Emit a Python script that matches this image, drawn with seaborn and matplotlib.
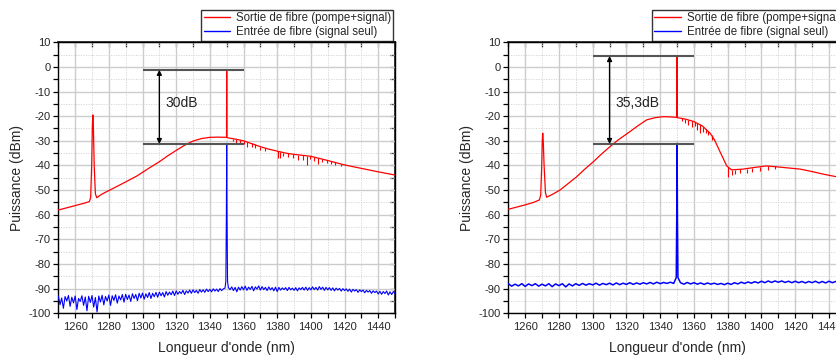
import numpy as np
import pandas as pd
import matplotlib
matplotlib.use("Agg")
import matplotlib.pyplot as plt
from matplotlib.ticker import MultipleLocator
from matplotlib.lines import Line2D
import seaborn as sns

# ---- data ----
# blue baseline (fibre input); the value at 1350 nm is the signal peak
blue_grid_left = np.arange(1250, 1451, 1)
blue_left = [
    -93.0, -96.5, -93.8, -98.0, -93.2, -95.0, -92.8, -97.2, -93.5, -95.8,
    -93.0, -98.5, -94.0, -95.2, -92.9, -96.8, -93.4, -99.0, -93.1, -95.6,
    -92.8, -97.5, -93.6, -99.5, -93.0, -95.4, -92.7, -96.6, -93.2, -95.0,
    -92.6, -96.8, -92.9, -94.8, -92.5, -95.9, -93.0, -94.6, -92.4, -95.5,
    -92.3, -94.4, -92.6, -95.2, -92.1, -94.0, -92.4, -94.9, -91.9, -93.8,
    -91.8, -94.3, -92.1, -93.6, -91.6, -94.0, -91.9, -93.3, -91.5, -93.5,
    -91.4, -92.9, -91.6, -93.4, -91.2, -92.7, -91.4, -92.5, -91.0, -92.8,
    -90.9, -92.3, -91.2, -92.0, -90.7, -92.4, -90.9, -91.8, -90.6, -91.9,
    -90.5, -91.6, -90.7, -91.9, -90.4, -91.4, -90.5, -91.5, -90.2, -91.2,
    -90.3, -91.3, -90.1, -91.0, -90.2, -91.2, -90.0, -90.8, -90.1, -89.8,
    -31.0,
    -89.6, -90.4, -89.3, -90.8, -89.5, -91.3, -89.4, -90.6, -89.2, -90.5,
    -89.0, -90.7, -89.4, -90.3, -89.1, -90.9, -89.3, -90.2, -88.9, -90.6,
    -89.2, -90.4, -89.5, -90.8, -89.3, -90.5, -89.6, -90.9, -89.4, -91.2,
    -89.5, -90.6, -89.7, -90.4, -89.6, -90.8, -89.5, -90.5, -89.8, -90.7,
    -89.6, -90.9, -89.7, -90.4, -89.5, -90.6, -89.4, -90.7, -89.6, -90.5,
    -89.3, -90.4, -89.5, -90.6, -89.2, -90.3, -89.4, -90.7, -89.5, -90.5,
    -89.6, -90.7, -89.7, -90.9, -89.8, -90.6, -89.9, -91.0, -90.0, -90.8,
    -90.1, -91.1, -90.2, -91.4, -90.3, -91.0, -90.4, -91.5, -90.5, -91.2,
    -90.6, -91.7, -90.7, -91.4, -90.8, -91.9, -90.9, -91.6, -91.0, -92.2,
    -91.1, -92.3, -91.2, -92.0, -91.0, -92.6, -91.3, -92.4, -91.2, -92.0,
]
blue_grid_right = np.arange(1250, 1451, 2)
blue_right = [
    -88.0, -89.0, -88.2, -88.9, -88.0, -89.1, -88.1, -88.8, -88.0, -89.0,
    -88.2, -88.9, -88.0, -89.2, -88.1, -88.8, -88.0, -89.3, -88.1, -88.9,
    -88.0, -88.7, -87.9, -88.6, -88.0, -88.5, -87.8, -88.6, -87.9, -88.4,
    -87.8, -88.5, -87.7, -88.4, -87.8, -88.3, -87.6, -88.3, -87.7, -88.2,
    -87.6, -88.1, -87.5, -88.1, -87.4, -88.0, -87.5, -87.9, -87.4, -87.9,
    -31.0,
    -87.6, -88.2, -87.5, -88.1, -87.6, -88.2, -87.7, -88.3, -87.7, -88.2,
    -87.8, -88.3, -87.9, -88.4, -87.8, -88.3, -87.6, -88.1, -87.4, -87.9,
    -87.3, -87.8, -87.2, -87.7, -87.0, -87.6, -86.9, -87.5, -86.9, -87.4,
    -86.9, -87.5, -87.0, -87.6, -87.0, -87.6, -87.1, -87.7, -87.1, -87.6,
    -87.0, -87.7, -87.1, -87.7, -87.0, -87.6, -87.1, -87.7, -87.2, -87.7,
]
# skirt of the blue signal line
skirt_wl = [1349.5, 1349.8, 1350.2, 1350.5]
skirt_left = [-87.0, -60.0, -60.0, -87.0]
skirt_right = [-85.5, -60.0, -60.0, -85.5]

# red spectra (fibre output)
red_left_wl = [1250, 1255, 1260, 1265, 1268.4, 1269.2, 1269.8, 1270.2, 1270.5, 1270.8,
               1271.3, 1272.0, 1272.8, 1276, 1280, 1286.6, 1290, 1296.6, 1300, 1305,
               1310, 1315, 1320, 1325, 1330, 1335, 1340, 1345, 1349.9, 1350,
               1350.1, 1355, 1360, 1365, 1370, 1375, 1380, 1385, 1390, 1400,
               1410, 1420, 1430, 1440, 1450]
red_left_db = [-58.1, -57.2, -56.3, -55.4, -54.7, -53.0, -40.0, -24.0, -19.5, -24.0,
               -40.0, -51.5, -53.1, -51.6, -50.2, -47.9, -46.7, -44.3, -42.8, -40.6,
               -38.5, -36.1, -33.9, -31.8, -30.1, -29.1, -28.6, -28.5, -28.6, -1.2,
               -28.7, -29.3, -30.0, -31.2, -32.4, -33.4, -34.2, -35.0, -35.5, -36.3,
               -38.0, -39.8, -41.2, -42.6, -43.9]
red_right_wl = [1250, 1255, 1260, 1265, 1268.4, 1269.2, 1269.8, 1270.1, 1270.4, 1270.7,
                1271.2, 1272.0, 1272.7, 1276, 1280.6, 1285, 1290.5, 1295, 1300.4, 1305,
                1310.2, 1315, 1322, 1327, 1332, 1337, 1342, 1346, 1349.9, 1350,
                1350.1, 1355, 1360, 1365, 1369.5, 1372, 1375.4, 1379.4, 1382.3, 1389,
                1396, 1403, 1411, 1423, 1430, 1437, 1444.5, 1450]
red_right_db = [-57.8, -56.9, -56.0, -55.0, -54.0, -52.0, -40.0, -30.0, -26.9, -30.0,
                -40.0, -51.0, -52.9, -51.8, -50.0, -47.6, -44.6, -41.7, -38.5, -35.5,
                -32.4, -29.7, -26.3, -23.8, -21.5, -20.6, -20.2, -20.3, -20.5, 4.4,
                -20.6, -21.2, -22.2, -24.0, -26.9, -29.4, -34.4, -40.2, -41.8, -41.5,
                -40.8, -40.2, -40.7, -41.5, -42.5, -43.6, -44.6, -45.3]

# narrow downward dips on the red spectra: wavelength, top, bottom
dip_left_wl = [1353.5, 1355.5, 1358, 1360.2, 1361.9, 1364.9, 1366.9, 1369.9, 1372.5, 1380.7,
               1381.7, 1383.7, 1386.7, 1389.5, 1392.6, 1395.6, 1397.5, 1399.5, 1402.0, 1404.4,
               1406.8, 1409.4, 1412.0, 1414.3, 1418]
dip_left_top = [-29.1, -29.4, -29.7, -30.0, -30.3, -31.0, -31.5, -32.4, -32.9, -34.3,
                -34.5, -34.8, -35.1, -35.5, -35.7, -35.9, -36.1, -36.3, -36.7, -37.0,
                -37.4, -37.9, -38.4, -38.8, -39.5]
dip_left_bot = [-30.2, -30.8, -31.5, -31.2, -32.6, -32.4, -33.0, -33.6, -34.0, -37.1,
                -37.0, -36.2, -36.5, -37.0, -37.9, -37.8, -39.8, -37.5, -38.0, -39.4,
                -38.6, -39.0, -39.3, -39.8, -40.2]
dip_right_wl = [1353.0, 1354.7, 1356.7, 1358.7, 1360.5, 1361.6, 1363.6, 1365.6, 1367.2, 1368.5,
                1370.5, 1380.4, 1382.3, 1384.3, 1387.3, 1391.2, 1394.2, 1399.2, 1404.1, 1408.1]
dip_right_top = [-20.9, -21.1, -21.4, -21.8, -22.3, -22.6, -23.3, -24.2, -25.2, -26.0,
                 -27.7, -40.6, -41.8, -41.7, -41.6, -41.3, -41.0, -40.5, -40.2, -40.4]
dip_right_bot = [-22.0, -22.9, -23.6, -24.5, -24.0, -25.6, -26.9, -26.6, -27.0, -27.6,
                 -29.7, -44.6, -44.0, -43.5, -43.2, -43.0, -42.8, -42.1, -42.0, -41.5]

# gain markers: top level, bottom level, label
gain_left = (-1.2, -31.3, "30dB")
gain_right = (4.4, -31.3, "35,3dB")

legend_labels = ["Sortie de fibre (pompe+signal)", "Entrée de fibre (signal seul)"]

sns.set_theme(style="white")
plt.rcParams['font.family'] = ['Liberation Sans', 'DejaVu Sans']
plt.rcParams['axes.unicode_minus'] = False

fig = plt.figure(figsize=(8.37, 3.58), dpi=100)
ax1 = fig.add_axes([0.0697, 0.125, 0.4023, 0.757])
ax2 = fig.add_axes([0.6073, 0.125, 0.4033, 0.757])


def draw(ax, red_wl, red_db, grid, blue_db, skirt_db, blue_lw, dwl, dtop, dbot, gain):
    top, bot, label = gain
    red = pd.DataFrame({"wl": red_wl, "db": red_db})
    blue = pd.DataFrame({"wl": np.concatenate([grid, skirt_wl]),
                         "db": np.concatenate([blue_db, skirt_db])}).sort_values("wl")
    sns.lineplot(data=red, x="wl", y="db", ax=ax, color="red", lw=0.9,
                 estimator=None, sort=False, zorder=3)
    ax.vlines(dwl, dbot, dtop, color="red", lw=0.8, zorder=3)
    sns.lineplot(data=blue, x="wl", y="db", ax=ax, color="blue", lw=blue_lw,
                 estimator=None, sort=False, zorder=4)

    ax.set_xlim(1250, 1450)
    ax.set_ylim(-100, 10)
    ax.xaxis.set_minor_locator(MultipleLocator(10))
    ax.yaxis.set_major_locator(MultipleLocator(10))
    ax.yaxis.set_minor_locator(MultipleLocator(5))
    ax.set_xticks(np.arange(1260, 1441, 20))
    ax.grid(which="major", color="#cccccc", lw=1.0, ls="-")
    ax.grid(which="minor", color="#d2d2d2", lw=0.6, ls=(0, (1.5, 1.5)))
    ax.set_axisbelow(True)
    for s in ax.spines.values():
        s.set_color("black")
        s.set_linewidth(1.0)
    ax.tick_params(which="both", bottom=True, left=True, top=False, right=False,
                   direction="out", length=3.5, width=0.9, color="black")
    ax.tick_params(axis="x", labelsize=8, pad=3)
    ax.tick_params(axis="y", labelsize=8, pad=2)
    sec_t = ax.secondary_xaxis("top")
    sec_t.xaxis.set_major_locator(MultipleLocator(10))
    sec_t.tick_params(direction="in", length=3.5, width=0.9, labeltop=False)
    sec_r = ax.secondary_yaxis("right")
    sec_r.yaxis.set_major_locator(MultipleLocator(5))
    sec_r.tick_params(direction="in", length=3.5, width=0.9, labelright=False)

    ax.set_xlabel("Longueur d'onde (nm)", fontsize=10, labelpad=6)
    ax.set_ylabel("Puissance (dBm)", fontsize=10, labelpad=3)

    ax.hlines([top, bot], 1300, 1360, color="#555555", lw=1.5, zorder=5)
    ax.annotate("", xy=(1310, top), xytext=(1310, bot),
                arrowprops=dict(arrowstyle="<|-|>", color="black", lw=1.0,
                                mutation_scale=7, shrinkA=0, shrinkB=0), zorder=6)
    ax.text(1313.5, -14.5, label, fontsize=10, va="center", ha="left", color="#222222")

    handles = [Line2D([], [], color="red", lw=1), Line2D([], [], color="blue", lw=1)]
    leg = ax.legend(handles, legend_labels, loc="lower right", bbox_to_anchor=(1.0, 1.0),
                    fontsize=8.3, frameon=True, fancybox=False, borderaxespad=0.15,
                    borderpad=0.2, labelspacing=0.15, handlelength=2.3, handletextpad=0.5)
    leg.get_frame().set_edgecolor("black")
    leg.get_frame().set_linewidth(1.0)


draw(ax1, red_left_wl, red_left_db, blue_grid_left, blue_left, skirt_left, 0.8,
     dip_left_wl, dip_left_top, dip_left_bot, gain_left)
draw(ax2, red_right_wl, red_right_db, blue_grid_right, blue_right, skirt_right, 1.1,
     dip_right_wl, dip_right_top, dip_right_bot, gain_right)

fig.savefig("out.png", dpi=100)
